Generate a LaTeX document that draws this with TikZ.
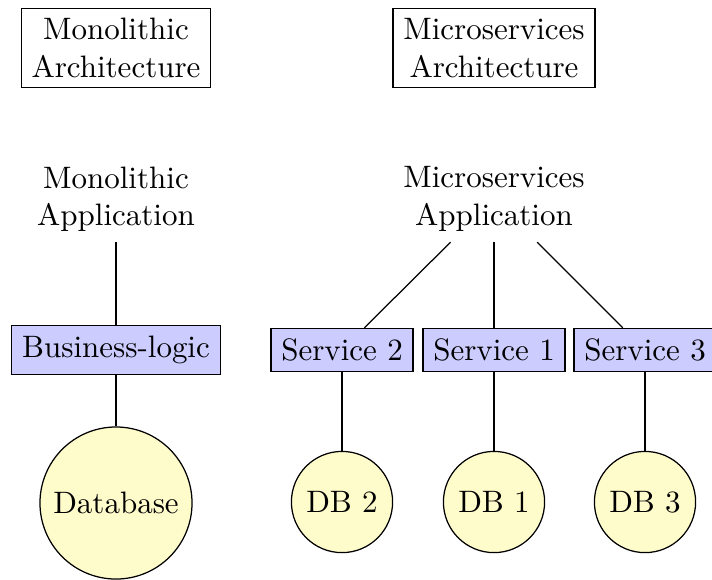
\documentclass[tikz,border=0pt]{standalone}
\usetikzlibrary{positioning}
\tikzset{
  titlebox/.style={draw, align=center},
  apptext/.style={align=center},
  logicbox/.style={draw, fill=blue!20},
  dbnode/.style={draw, circle, fill=yellow!20},
  link/.style={draw}
}
\begin{document}
\begin{tikzpicture}[x=0.3226pt, y=-0.3226pt]
  \useasboundingbox (0,0) rectangle (712,579);

  % headings
  \node[titlebox] (monoarch)  at (116,48) {Monolithic\\Architecture};
  \node[titlebox] (microarch) at (494,48) {Microservices\\Architecture};

  % monolithic side
  \node[apptext]  (monoapp) at (116,199) {Monolithic\\Application};
  \node[logicbox] (biz)     at (116,350) {Business-logic};
  \node[dbnode]   (db)      at (116,503) {Database};

  % microservices side
  \node[apptext]  (microapp) at (494,199) {Microservices\\Application};
  \node[logicbox] (s2) at (342,350) {Service 2};
  \node[logicbox] (s1) at (494,350) {Service 1};
  \node[logicbox] (s3) at (645,350) {Service 3};
  \node[dbnode] (db2) at (342,502) {DB 2};
  \node[dbnode] (db1) at (494,502) {DB 1};
  \node[dbnode] (db3) at (645,502) {DB 3};

  % connections
  \draw[link] (monoapp) -- (biz);
  \draw[link] (biz) -- (db);
  \draw[link] (microapp) -- (s2);
  \draw[link] (microapp) -- (s1);
  \draw[link] (microapp) -- (s3);
  \draw[link] (s2) -- (db2);
  \draw[link] (s1) -- (db1);
  \draw[link] (s3) -- (db3);
\end{tikzpicture}
\end{document}
